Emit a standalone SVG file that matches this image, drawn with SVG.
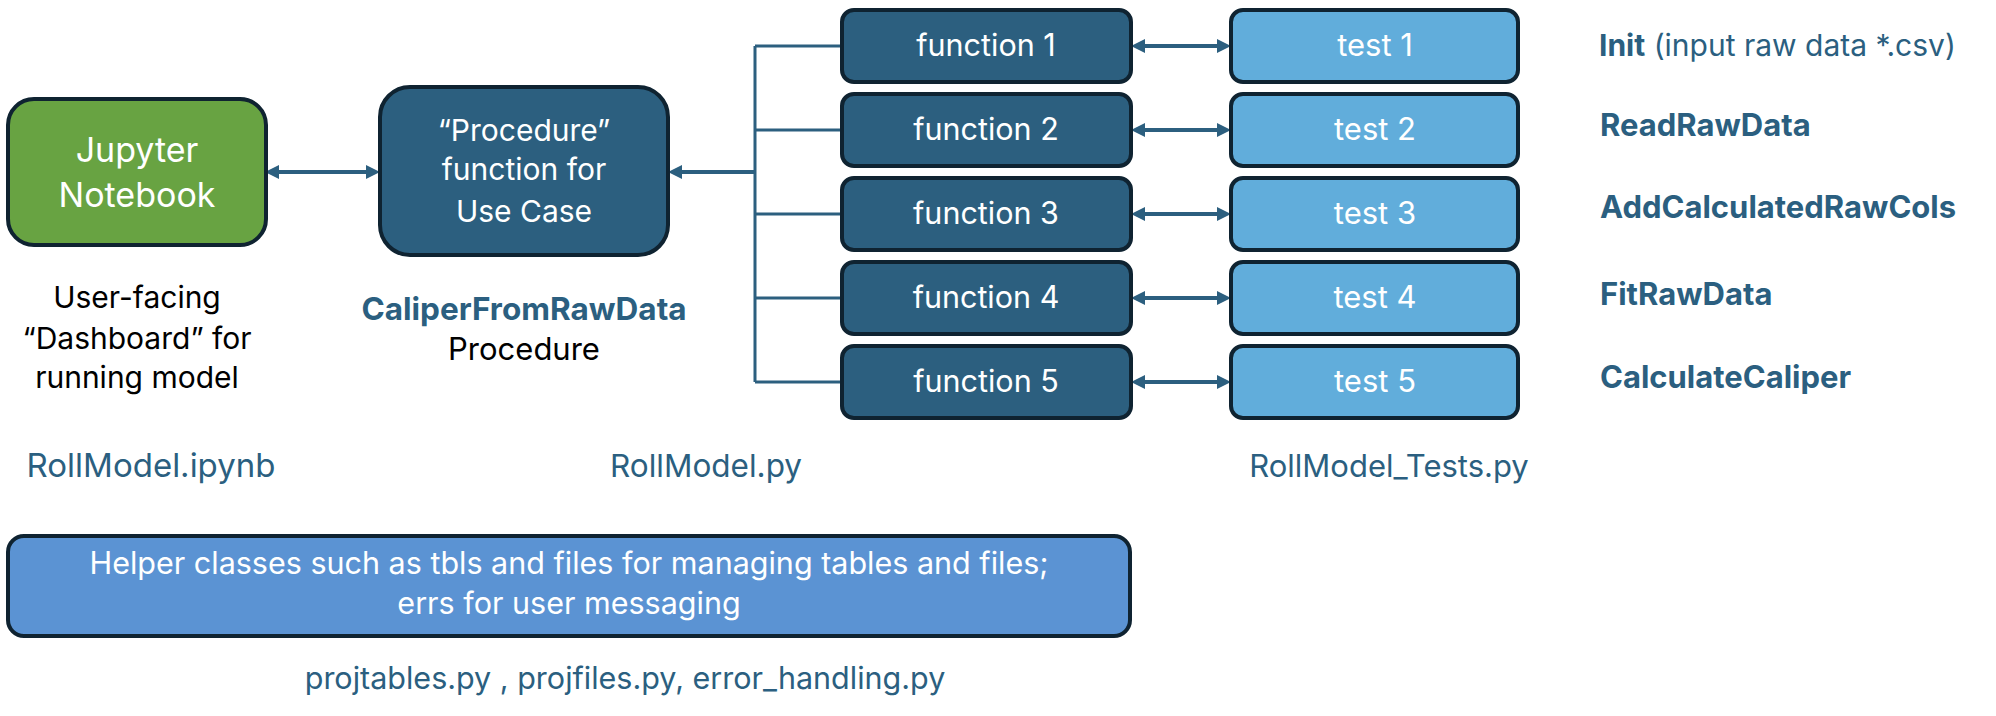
<svg xmlns="http://www.w3.org/2000/svg" width="1996" height="716" viewBox="0 0 1996 716">
<defs>
<marker id="ah" viewBox="0 0 14 14" refX="10" refY="7" markerWidth="14" markerHeight="14" markerUnits="userSpaceOnUse" orient="auto-start-reverse">
<path d="M0,0 L14,7 L0,14 z" fill="#2c5f7f"/>
</marker>
<style>
.t{font-family:Inter,"Liberation Sans",sans-serif;text-anchor:middle}
.s{text-anchor:start}
.w{fill:#ffffff}
.k{fill:#000000}
.b{fill:#2b5f80}
.bold{font-weight:bold}
.fn{fill:#2c5f7f;stroke:#0f2331;stroke-width:4}
.ts{fill:#61addb;stroke:#0f2331;stroke-width:4}
.ln{stroke:#2c5f7f;stroke-width:3;fill:none}
.ar{stroke:#2c5f7f;stroke-width:4;fill:none}
</style>
</defs>
<rect width="1996" height="716" fill="#ffffff"/>

<g id="connectors">
<path class="ln" d="M755,46 V382 M755,46 H842 M755,130 H842 M755,214 H842 M755,298 H842 M755,382 H842"/>
<line class="ar" x1="755" y1="172" x2="672" y2="172" marker-end="url(#ah)"/>
<line class="ar" x1="269" y1="172" x2="376" y2="172" marker-start="url(#ah)" marker-end="url(#ah)"/>
<line class="ar" x1="1135" y1="46" x2="1227" y2="46" marker-start="url(#ah)" marker-end="url(#ah)"/>
<line class="ar" x1="1135" y1="130" x2="1227" y2="130" marker-start="url(#ah)" marker-end="url(#ah)"/>
<line class="ar" x1="1135" y1="214" x2="1227" y2="214" marker-start="url(#ah)" marker-end="url(#ah)"/>
<line class="ar" x1="1135" y1="298" x2="1227" y2="298" marker-start="url(#ah)" marker-end="url(#ah)"/>
<line class="ar" x1="1135" y1="382" x2="1227" y2="382" marker-start="url(#ah)" marker-end="url(#ah)"/>
</g>

<g id="jupyter">
<rect x="8" y="99" width="258" height="146" rx="26" fill="#68a342" stroke="#0f2331" stroke-width="4"/>
<text class="t w" x="137" y="162" font-size="34">Jupyter</text>
<text class="t w" x="137" y="207" font-size="34">Notebook</text>
</g>
<g id="jupyter-desc">
<text class="t k" x="137" y="308" font-size="30">User-facing</text>
<text class="t k" x="137" y="349" font-size="30">“Dashboard” for</text>
<text class="t k" x="137" y="388" font-size="30">running model</text>
<text class="t b" x="151" y="477" font-size="33">RollModel.ipynb</text>
</g>

<g id="procedure">
<rect x="380" y="87" width="288" height="168" rx="30" fill="#2c5f7f" stroke="#0f2331" stroke-width="4"/>
<text class="t w" x="524" y="141" font-size="30">“Procedure”</text>
<text class="t w" x="524" y="180" font-size="30">function for</text>
<text class="t w" x="524" y="222" font-size="30">Use Case</text>
</g>
<g id="procedure-desc">
<text class="t b bold" x="524" y="320" font-size="31.5">CaliperFromRawData</text>
<text class="t k" x="524" y="360" font-size="31">Procedure</text>
<text class="t b" x="706" y="477" font-size="31.5">RollModel.py</text>
</g>

<g id="function1"><rect class="fn" x="842" y="10" width="289" height="72" rx="12"/><text class="t w" x="986" y="56" font-size="30.5">function 1</text></g>
<g id="function2"><rect class="fn" x="842" y="94" width="289" height="72" rx="12"/><text class="t w" x="986" y="140" font-size="30.5">function 2</text></g>
<g id="function3"><rect class="fn" x="842" y="178" width="289" height="72" rx="12"/><text class="t w" x="986" y="224" font-size="30.5">function 3</text></g>
<g id="function4"><rect class="fn" x="842" y="262" width="289" height="72" rx="12"/><text class="t w" x="986" y="308" font-size="30.5">function 4</text></g>
<g id="function5"><rect class="fn" x="842" y="346" width="289" height="72" rx="12"/><text class="t w" x="986" y="392" font-size="30.5">function 5</text></g>

<g id="test1"><rect class="ts" x="1231" y="10" width="287" height="72" rx="12"/><text class="t w" x="1375" y="56" font-size="31">test 1</text></g>
<g id="test2"><rect class="ts" x="1231" y="94" width="287" height="72" rx="12"/><text class="t w" x="1375" y="140" font-size="31">test 2</text></g>
<g id="test3"><rect class="ts" x="1231" y="178" width="287" height="72" rx="12"/><text class="t w" x="1375" y="224" font-size="31">test 3</text></g>
<g id="test4"><rect class="ts" x="1231" y="262" width="287" height="72" rx="12"/><text class="t w" x="1375" y="308" font-size="31">test 4</text></g>
<g id="test5"><rect class="ts" x="1231" y="346" width="287" height="72" rx="12"/><text class="t w" x="1375" y="392" font-size="31">test 5</text></g>

<g id="test-labels">
<text class="t s b" x="1599" y="56" font-size="30"><tspan font-weight="bold">Init</tspan> (input raw data *.csv)</text>
<text class="t s b bold" x="1600" y="136" font-size="31">ReadRawData</text>
<text class="t s b bold" x="1600" y="218" font-size="31">AddCalculatedRawCols</text>
<text class="t s b bold" x="1600" y="305" font-size="31">FitRawData</text>
<text class="t s b bold" x="1600" y="388" font-size="31">CalculateCaliper</text>
<text class="t b" x="1389" y="477" font-size="31">RollModel_Tests.py</text>
</g>

<g id="helpers">
<rect x="8" y="536" width="1122" height="100" rx="16" fill="#5b93d3" stroke="#0f2331" stroke-width="4"/>
<text class="t w" x="569" y="574" font-size="30.5">Helper classes such as tbls and files for managing tables and files;</text>
<text class="t w" x="569" y="614" font-size="30.5">errs for user messaging</text>
</g>
<g id="helpers-desc">
<text class="t b" x="625" y="689" font-size="30.5">projtables.py , projfiles.py, error_handling.py</text>
</g>
</svg>
